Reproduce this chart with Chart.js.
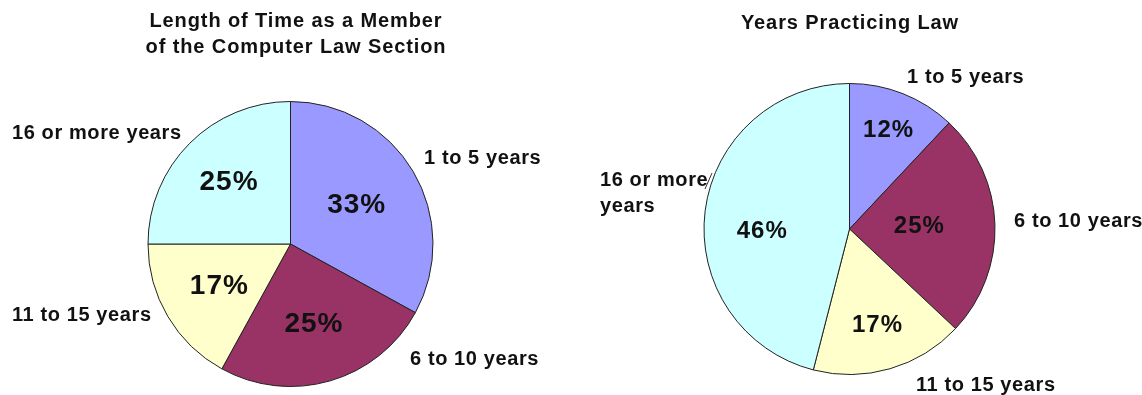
<!DOCTYPE html>
<html>
<head>
<meta charset="utf-8">
<script src="https://cdn.jsdelivr.net/npm/chart.js@4.4.1/dist/chart.umd.min.js"></script>
<style>
  html, body { margin: 0; padding: 0; background: #fff; }
  #wrap { position: relative; width: 1142px; height: 395px; overflow: hidden; }
  #wrap canvas { position: absolute; top: 0; }
</style>
</head>
<body>
<div id="wrap">
  <canvas id="memberChart" width="571" height="395" style="left:0"></canvas>
  <canvas id="practiceChart" width="571" height="395" style="left:571px"></canvas>
</div>
<script>
// Survey answers, percent of respondents
const categories = ['1 to 5 years', '6 to 10 years', '11 to 15 years', '16 or more years'];
const memberPct = [33, 25, 17, 25];
const practicePct = [12, 25, 17, 46];
const memberTitle = ['Length of Time as a Member', 'of the Computer Law Section'];
const practiceTitle = ['Years Practicing Law'];
const sliceColors = ['#9999ff', '#993366', '#ffffcc', '#ccffff'];

const FONT = '"Liberation Sans", Arial, Helvetica, sans-serif';

// Where the text goes on each canvas (canvas-local px)
const memberLayout = {
  titleX: 296, titleY: [21, 47],
  pctSize: 28,
  pctDist: [0.54, 0.59, 0.58, 0.61],
  pctTurn: [0, 0, 0, 0],
  names: [
    { lines: ['1 to 5 years'], x: 424, y: 158 },
    { lines: ['6 to 10 years'], x: 410, y: 359 },
    { lines: ['11 to 15 years'], x: 12, y: 315 },
    { lines: ['16 or more years'], x: 12, y: 133 }
  ],
  leader: null
};

const practiceLayout = {
  titleX: 279, titleY: [23],
  pctSize: 24,
  pctDist: [0.73, 0.48, 0.69, 0.6],
  pctTurn: [0, 0, 0, -9],
  names: [
    { lines: ['1 to 5 years'], x: 336, y: 77 },
    { lines: ['6 to 10 years'], x: 443, y: 221 },
    { lines: ['11 to 15 years'], x: 345, y: 385 },
    { lines: ['16 or more', 'years'], x: 29, y: 180, step: 26 }
  ],
  leader: [134, 189, 141, 173]
};

function textPlugin(titleLines, lay) {
  return {
    id: 'sliceText',
    afterDatasetsDraw(chart) {
      const ctx = chart.ctx;
      const meta = chart.getDatasetMeta(0);
      const values = chart.data.datasets[0].data;
      ctx.save();
      ctx.fillStyle = '#111';
      ctx.textBaseline = 'middle';

      // title
      ctx.font = `bold 20px ${FONT}`;
      ctx.letterSpacing = '0.9px';
      ctx.textAlign = 'center';
      titleLines.forEach((t, i) => ctx.fillText(t, lay.titleX, lay.titleY[i]));

      // category names outside the pie
      ctx.letterSpacing = '0.6px';
      ctx.textAlign = 'left';
      lay.names.forEach(n => {
        n.lines.forEach((t, i) => ctx.fillText(t, n.x, n.y + i * (n.step || 0)));
      });

      if (lay.leader) {
        const [x1, y1, x2, y2] = lay.leader;
        ctx.strokeStyle = '#333';
        ctx.lineWidth = 1;
        ctx.beginPath();
        ctx.moveTo(x1, y1);
        ctx.lineTo(x2, y2);
        ctx.stroke();
      }

      // percentages inside the slices
      ctx.font = `bold ${lay.pctSize}px ${FONT}`;
      ctx.letterSpacing = '1px';
      ctx.textAlign = 'center';
      meta.data.forEach((arc, i) => {
        const p = arc.getProps(['x', 'y', 'startAngle', 'endAngle', 'outerRadius'], true);
        const mid = (p.startAngle + p.endAngle) / 2 + lay.pctTurn[i] * Math.PI / 180;
        const r = p.outerRadius * lay.pctDist[i];
        ctx.fillText(values[i] + '%', p.x + Math.cos(mid) * r, p.y + Math.sin(mid) * r);
      });
      ctx.restore();
    }
  };
}

function makePie(id, values, titleLines, lay, padding) {
  return new Chart(document.getElementById(id), {
    type: 'pie',
    data: {
      labels: categories,
      datasets: [{
        data: values,
        backgroundColor: sliceColors,
        borderColor: '#222',
        borderWidth: 1
      }]
    },
    options: {
      responsive: false,
      animation: false,
      devicePixelRatio: 1,
      layout: { padding },
      plugins: {
        legend: { display: false },
        tooltip: { enabled: false }
      }
    },
    plugins: [textPlugin(titleLines, lay)]
  });
}

makePie('memberChart', memberPct, memberTitle, memberLayout,
  { left: 147.5, right: 137.5, top: 101, bottom: 8 });
makePie('practiceChart', practicePct, practiceTitle, practiceLayout,
  { left: 132.5, right: 146.5, top: 83, bottom: 20 });
</script>
</body>
</html>
